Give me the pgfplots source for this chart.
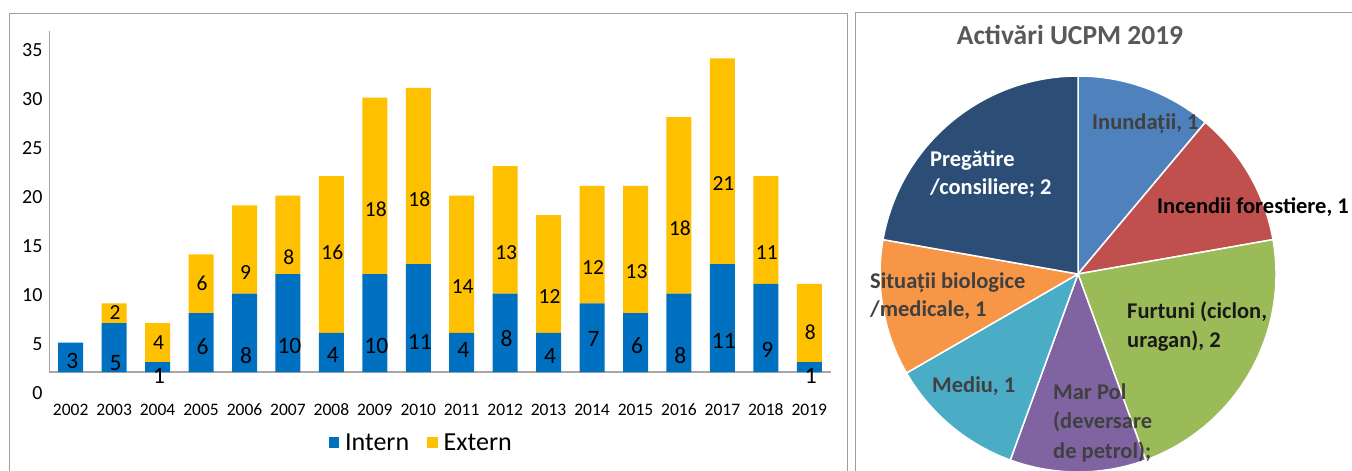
\documentclass[border=0pt]{standalone}
\usepackage{fontspec}
\setmainfont{Carlito}
\usepackage{pgfplots}
\usepackage{pgfplotstable}
\pgfplotsset{compat=1.18}
\definecolor{cIntern}{HTML}{0070C0}
\definecolor{cExtern}{HTML}{FFC000}
\definecolor{frameg}{HTML}{A0A0A0}
\definecolor{axg}{HTML}{A6A6A6}
\definecolor{p1}{HTML}{4F81BD}
\definecolor{p2}{HTML}{C0504D}
\definecolor{p3}{HTML}{9BBB59}
\definecolor{p4}{HTML}{8064A2}
\definecolor{p5}{HTML}{4BACC6}
\definecolor{p6}{HTML}{F79646}
\definecolor{p7}{HTML}{2C4D75}
\definecolor{lblg}{HTML}{404040}
\definecolor{titg}{HTML}{595959}

\pgfplotstableread{
year intern extern
2002 3 0
2003 5 2
2004 1 4
2005 6 6
2006 8 9
2007 10 8
2008 4 16
2009 10 18
2010 11 18
2011 4 14
2012 8 13
2013 4 12
2014 7 12
2015 6 13
2016 8 18
2017 11 21
2018 9 11
2019 1 8
}\bardata

\pgfplotstableread{
x y label
2002 1.1 3
2003 0.95 5
2004 -0.4 1
2005 2.6 6
2006 1.7 8
2007 2.65 10
2008 1.7 4
2009 2.65 10
2010 3.1 11
2011 2.25 4
2012 3.4 8
2013 1.6 4
2014 3.4 7
2015 2.65 6
2016 1.7 8
2017 3.2 11
2018 2.25 9
2019 -0.4 1
}\labelsIntern

\pgfplotstableread{
x y label
2003 6.05 2
2004 3.0 4
2005 9.05 6
2006 10.2 9
2007 11.7 8
2008 12.2 16
2009 16.6 18
2010 17.65 18
2011 8.7 14
2012 12.2 13
2013 7.7 12
2014 10.7 12
2015 10.2 13
2016 14.7 18
2017 19.2 21
2018 12.2 11
2019 4.1 8
}\labelsExtern

\newcommand{\slice}[3]{\filldraw[fill=#1, draw=white, line width=1.5pt] (axis cs:0,0) -- ++({90-40*#2}:198pt) arc[start angle={90-40*#2}, end angle={90-40*#3}, radius=198pt] -- cycle;}

\begin{document}
\begin{tikzpicture}
\path[use as bounding box] (0pt,0pt) rectangle (1352pt,471pt);
\draw[frameg, line width=1pt] (9pt,-5pt) rectangle (847pt,457pt);
\draw[frameg, line width=1pt] (855pt,-5pt) rectangle (1360pt,458pt);

\begin{axis}[
  scale only axis, width=782pt, height=362.6pt,
  at={(49pt,77.4pt)}, anchor=south west,
  ybar stacked, bar width=25pt,
  xmin=2001.5, xmax=2019.5, ymin=-2.2, ymax=34.8,
  xtick={2002,2003,2004,2005,2006,2007,2008,2009,2010,2011,2012,2013,2014,2015,2016,2017,2018,2019},
  xticklabels={2002,2003,2004,2005,2006,2007,2008,2009,2010,2011,2012,2013,2014,2015,2016,2017,2018,2019},
  x tick label style={font=\fontsize{17.5}{20}\selectfont, text height=11.5pt, text depth=0pt, yshift=-7pt},
  ytick={-2.14,2.86,7.86,12.86,17.86,22.86,27.86,32.86},
  yticklabels={0,5,10,15,20,25,30,35},
  y tick label style={font=\fontsize{20}{22}\selectfont, xshift=-3pt},
  axis line style={draw=none}, major tick length=0pt,
  /pgf/number format/assume math mode=true,
  legend style={at={(0.476,-0.136)}, anchor=center, draw=none, fill=none,
    legend columns=2, font=\fontsize{26}{28}\selectfont,
    /tikz/every odd column/.append style={column sep=4pt},
    /tikz/every even column/.append style={column sep=16pt}},
]
\addplot[fill=cIntern, draw=none, legend image code/.code={\fill[cIntern] (0pt,-5pt) rectangle (10.5pt,5.5pt);}] table[x=year,y=intern]{\bardata};
\addplot[fill=cExtern, draw=none, legend image code/.code={\fill[cExtern] (0pt,-5pt) rectangle (10.5pt,5.5pt);}] table[x=year,y=extern]{\bardata};
\legend{Intern, Extern}
\draw[axg, line width=1.3pt] (axis cs:2001.5,0) -- (axis cs:2019.5,0);
\draw[axg, line width=1.3pt] (axis cs:2001.5,0) -- (axis cs:2001.5,34.8);
\end{axis}

\begin{axis}[
  scale only axis, width=782pt, height=362.6pt,
  at={(49pt,77.4pt)}, anchor=south west,
  xmin=2001.5, xmax=2019.5, ymin=-2.2, ymax=34.8,
  hide axis, clip=false,
]
\addplot[only marks, mark=*, mark size=0pt, mark options={draw opacity=0, fill opacity=0},
  nodes near coords, point meta=explicit symbolic,
  every node near coord/.append style={anchor=center, xshift=1.5pt, font=\fontsize{23.5}{25}\selectfont, text=black, text opacity=1, inner sep=0pt}]
  table[x=x, y=y, meta=label]{\labelsIntern};
\addplot[only marks, mark=*, mark size=0pt, mark options={draw opacity=0, fill opacity=0},
  nodes near coords, point meta=explicit symbolic,
  every node near coord/.append style={anchor=center, xshift=1pt, font=\fontsize{21.5}{23}\selectfont, text=black, text opacity=1, inner sep=0pt}]
  table[x=x, y=y, meta=label]{\labelsExtern};
\end{axis}

\begin{axis}[
  hide axis, clip=false, x=1pt, y=1pt,
  xmin=-200, xmax=200, ymin=-200, ymax=200,
  anchor=origin, at={(1078pt,197pt)},
]
\slice{p1}{0}{1}
\slice{p2}{1}{2}
\slice{p3}{2}{4}
\slice{p4}{4}{5}
\slice{p5}{5}{6}
\slice{p6}{6}{7}
\slice{p7}{7}{9}
\node[font=\bfseries\fontsize{27.5}{30}\selectfont, text=titg] at (axis cs:-8,239) {Activări UCPM 2019};
\node[font=\bfseries\fontsize{22.5}{28.5}\selectfont, text=lblg, anchor=west, inner sep=0pt] at (axis cs:14,150) {Inundații, 1};
\node[font=\bfseries\fontsize{22.5}{28.5}\selectfont, text=black, anchor=west, inner sep=0pt] at (axis cs:79,67) {Incendii forestiere, 1};
\node[font=\bfseries\fontsize{22.5}{29}\selectfont, text=black!90, anchor=west, align=left, inner sep=0pt] at (axis cs:49,-52.5) {Furtuni (ciclon,\\uragan), 2};
\node[font=\bfseries\fontsize{22.5}{29.5}\selectfont, text=lblg, anchor=west, align=left, inner sep=0pt] at (axis cs:-25,-148.5) {Mar Pol\\(deversare\\de petrol);};
\node[font=\bfseries\fontsize{22.5}{28.5}\selectfont, text=lblg, anchor=west, inner sep=0pt] at (axis cs:-146,-112) {Mediu, 1};
\node[font=\bfseries\fontsize{22.5}{28.5}\selectfont, text=lblg, anchor=west, align=left, inner sep=0pt] at (axis cs:-208,-22) {Situații biologice\\/medicale, 1};
\node[font=\bfseries\fontsize{22.5}{28.5}\selectfont, text=white, anchor=west, align=left, inner sep=0pt] at (axis cs:-148,100) {Pregătire\\/consiliere; 2};
\end{axis}
\end{tikzpicture}
\end{document}
